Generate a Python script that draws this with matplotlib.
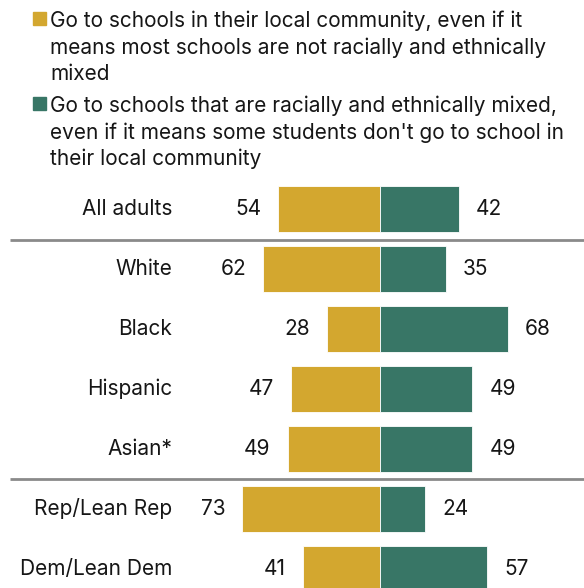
import matplotlib
matplotlib.use("Agg")
import matplotlib.pyplot as plt
from matplotlib.patches import Rectangle

plt.rcParams["font.family"] = ["Inter", "DejaVu Sans"]

# Survey groups and shares (%) for each preference
groups = ["All adults", "White", "Black", "Hispanic", "Asian*",
          "Rep/Lean Rep", "Dem/Lean Dem"]
local_schools = [54, 62, 28, 47, 49, 73, 41]
mixed_schools = [42, 35, 68, 49, 49, 24, 57]

legend_lines = [
    ["Go to schools in their local community, even if it",
     "means most schools are not racially and ethnically",
     "mixed"],
    ["Go to schools that are racially and ethnically mixed,",
     "even if it means some students don't go to school in",
     "their local community"],
]

GOLD = "#D3A72F"
GREEN = "#387666"
TEXT = "#161616"
W, H, DPI = 584, 588, 100

fig = plt.figure(figsize=(W / DPI, H / DPI), dpi=DPI)
ax = fig.add_axes([0, 0, 1, 1])

# scale: pixels per percentage point, zero line at x=380 px
ppu = 1.885
x0 = 380
ax.set_xlim(-x0 / ppu, (W - x0) / ppu)
pitch = 60.0
first = 208.7
ax.set_ylim((H - first) / pitch, -first / pitch)
ax.axis("off")

rows = list(range(len(groups)))
bh = 46 / pitch
ax.barh(rows, [-v for v in local_schools], height=bh, color=GOLD,
        edgecolor="white", linewidth=0.6)
ax.barh(rows, mixed_schools, height=bh, color=GREEN,
        edgecolor="white", linewidth=0.6)

gap = 9.0
fs = 15
for i, (g, l, m) in enumerate(zip(groups, local_schools, mixed_schools)):
    ax.text(-l - gap, i, f"{l}", ha="right", va="center", fontsize=fs,
            color=TEXT)
    ax.text(m + gap, i, f"{m}", ha="left", va="center", fontsize=fs,
            color=TEXT)
    ax.text((172 - x0) / ppu, i, g, ha="right", va="center", fontsize=fs,
            color=TEXT)

# separators below "All adults" and "Asian*"
for yline in (0.515, 4.5):
    ax.plot([(10 - x0) / ppu, (W - x0) / ppu], [yline, yline],
            color="#8a8a8a", lw=2.0, solid_capstyle="butt", clip_on=False)


# legend, placed in pixel units from the top-left corner
def fx(px):
    return px / W


def fy(py):
    return 1 - py / H


for lines, color, top in zip(legend_lines, [GOLD, GREEN], [12.3, 97.3]):
    fig.patches.append(Rectangle((fx(33), fy(top + 13)), 13 / W, 13 / H,
                                 transform=fig.transFigure, color=color))
    for k, line in enumerate(lines):
        fig.text(fx(50), fy(top + 14.6 + k * 26.7), line, ha="left",
                 va="baseline", fontsize=15, color=TEXT)

fig.savefig("out.png", dpi=DPI)
